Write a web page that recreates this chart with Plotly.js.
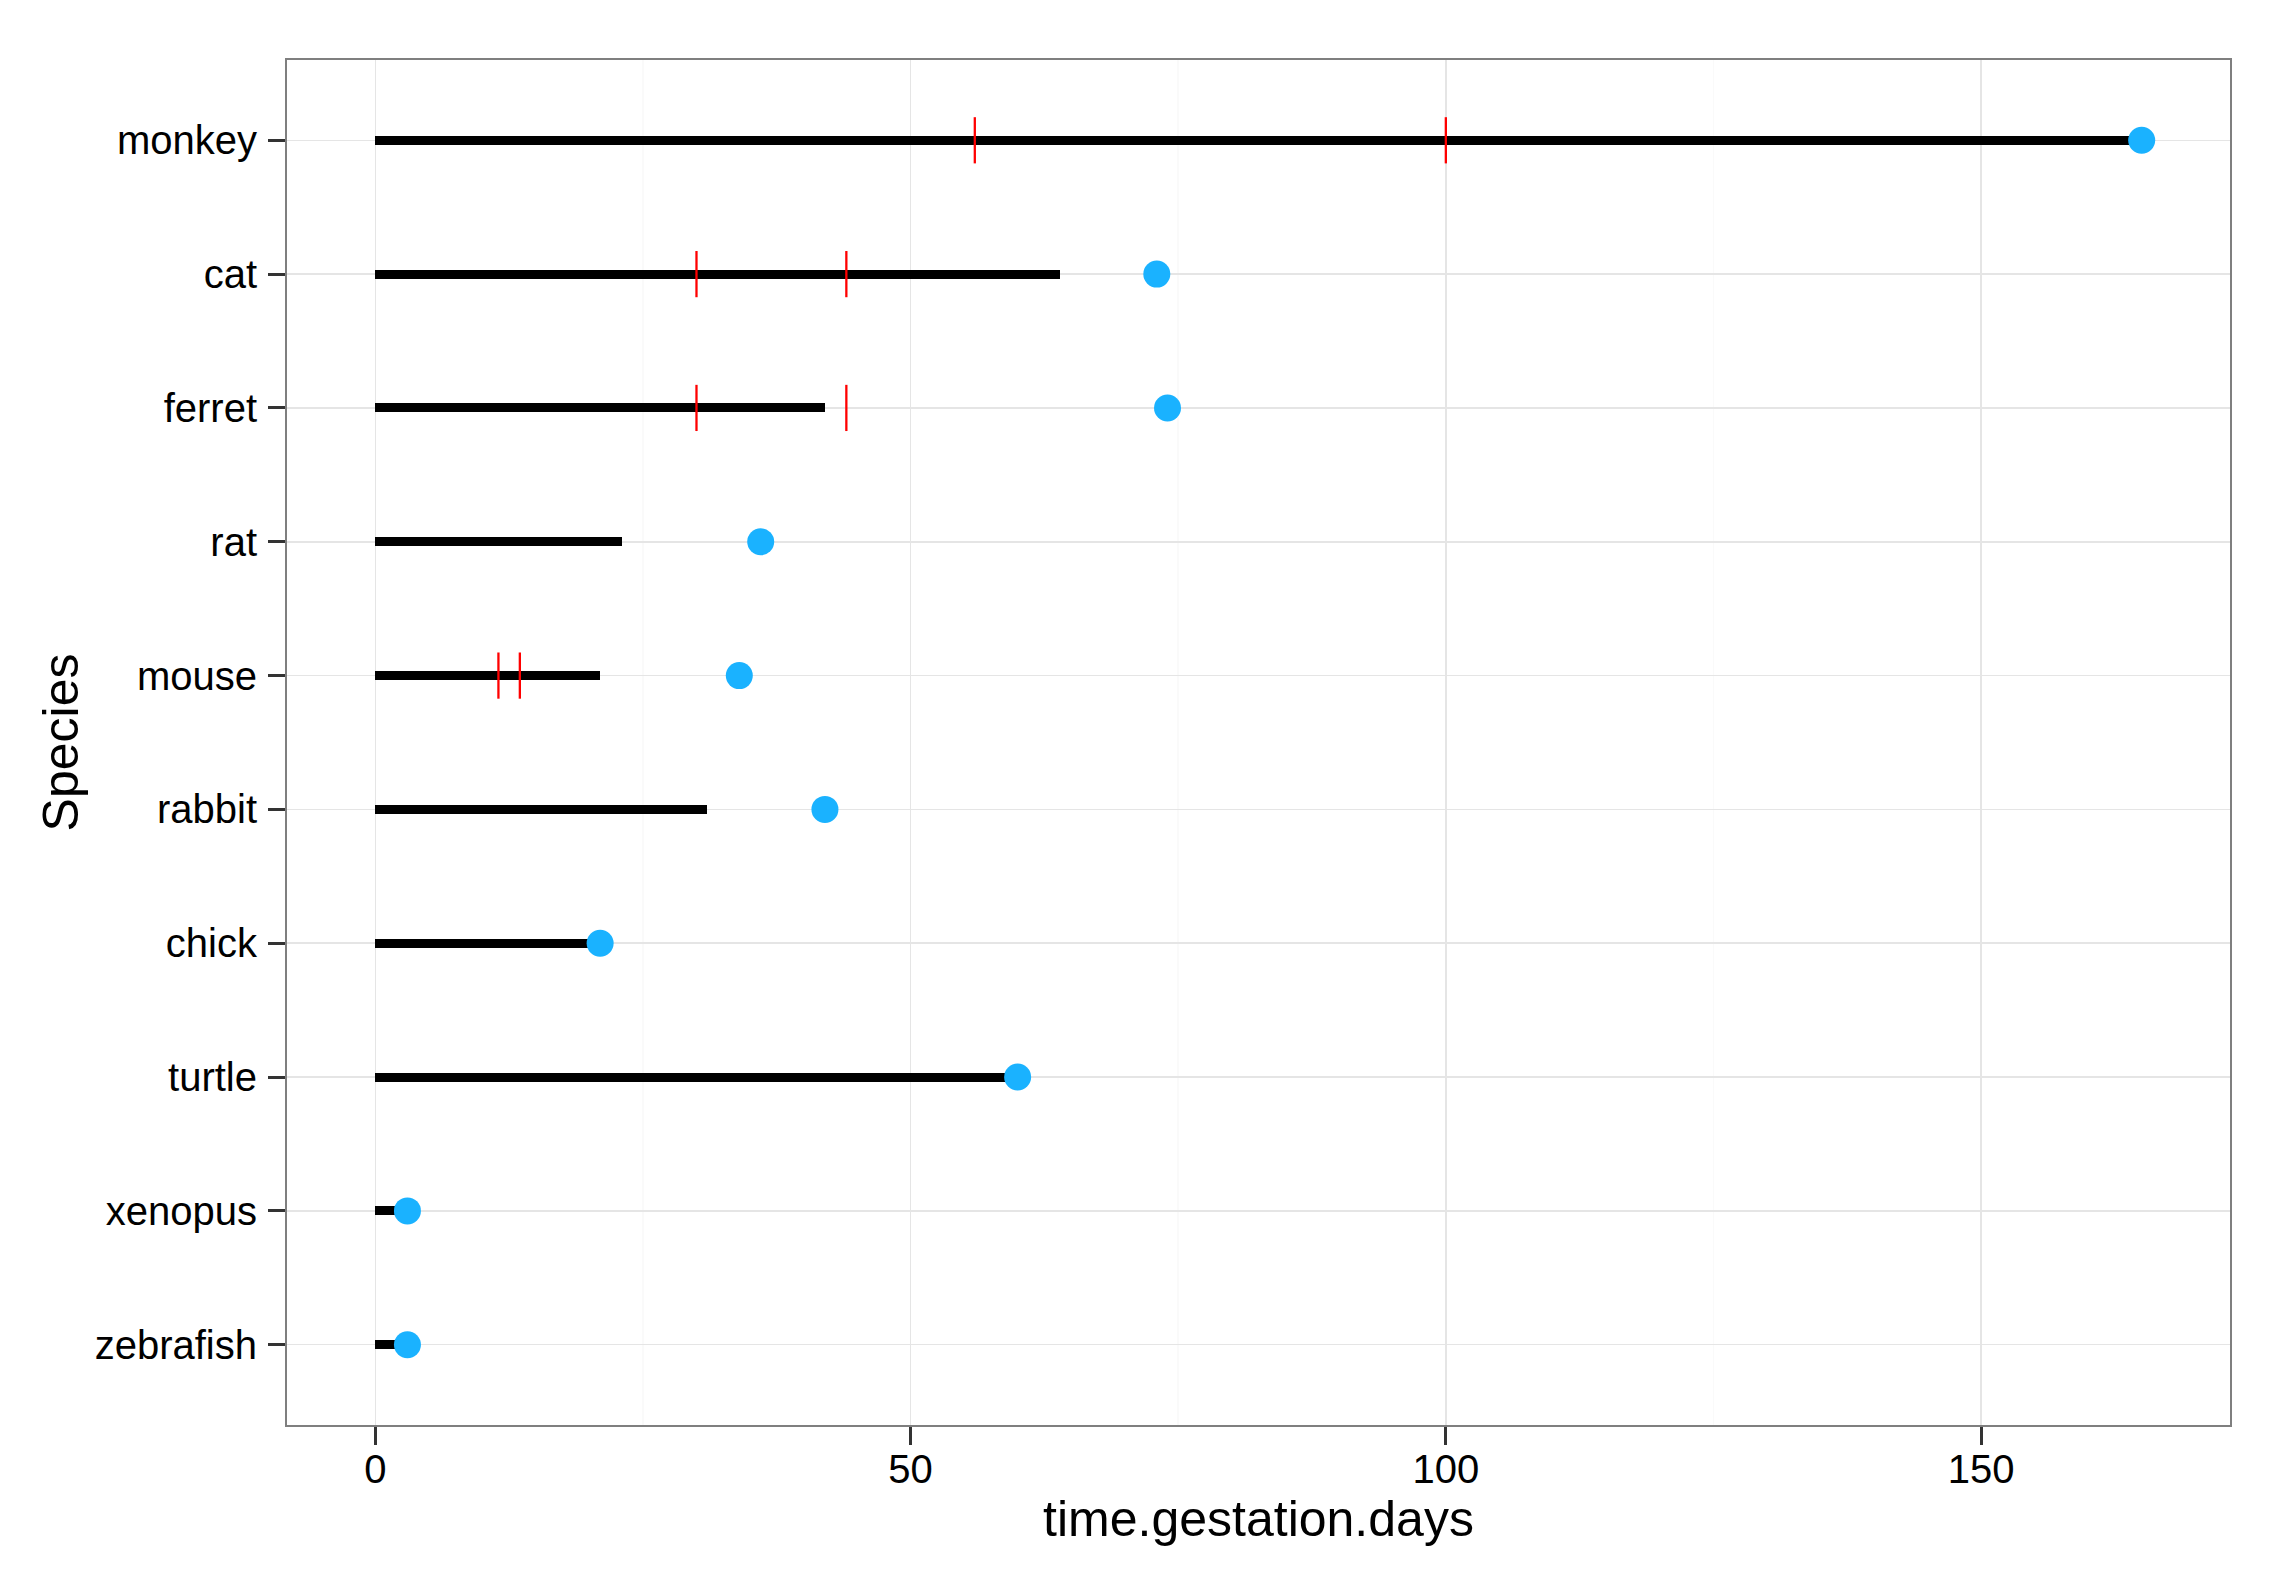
<!DOCTYPE html>
<html>
<head>
<meta charset="utf-8">
<script src="https://cdn.plot.ly/plotly-3.0.1.min.js"></script>
<style>html,body{margin:0;padding:0;background:#fff;}#chart{width:2291px;height:1579px;}</style>
</head>
<body>
<div id="chart"></div>
<script>
// Data
const species   = ["monkey", "cat", "ferret", "rat", "mouse", "rabbit", "chick", "turtle", "xenopus", "zebrafish"];
const barEnd    = [165, 64, 42, 23, 21, 31, 21, 59, 3, 3];
const pointDay  = [165, 73, 74, 36, 34, 42, 21, 60, 3, 3];
const markFirst = [56, 30, 30, null, 11.5, null, null, null, null, null];
const markSecond= [100, 44, 44, null, 13.5, null, null, null, null, null];
const xTicks    = [0, 50, 100, 150];

const markX = markFirst.concat(markSecond);
const markY = species.concat(species);

const FONT = '"Liberation Sans", Arial, Helvetica, sans-serif';

const traces = [
  {
    type: 'bar', orientation: 'h',
    x: barEnd, y: species,
    width: 0.067,
    marker: {color: '#000000', line: {width: 0}},
    hoverinfo: 'x+y', showlegend: false
  },
  {
    type: 'scatter', mode: 'markers',
    x: markX, y: markY,
    marker: {symbol: 'line-ns', size: 33, color: '#FF0000', line: {color: '#FF0000', width: 2.3}},
    showlegend: false
  },
  {
    type: 'scatter', mode: 'markers',
    x: pointDay, y: species,
    marker: {symbol: 'circle', size: 27, color: '#1AB2FF', line: {width: 0}},
    showlegend: false
  }
];

const layout = {
  width: 2291, height: 1579,
  margin: {l: 287, r: 61, t: 60, b: 154, pad: 0},
  paper_bgcolor: '#FFFFFF', plot_bgcolor: '#FFFFFF',
  font: {family: FONT, color: '#000000'},
  showlegend: false,
  bargap: 0,
  xaxis: {
    range: [-8.25, 173.25],
    tickmode: 'array', tickvals: xTicks, ticktext: xTicks.map(String),
    ticks: 'outside', ticklen: 18, tickwidth: 3, tickcolor: '#333333',
    ticklabelstandoff: -10,
    tickfont: {family: FONT, size: 40, color: '#000000'},
    showgrid: true, gridcolor: '#E5E5E5', gridwidth: 1.5,
    minor: {dtick: 25, tick0: 0, showgrid: true, gridcolor: '#FAFAFA', gridwidth: 1.5, ticks: ''},
    zeroline: false,
    showline: true, mirror: true, linecolor: '#7F7F7F', linewidth: 2,
    title: {text: 'time.gestation.days', font: {family: FONT, size: 50, color: '#000000'}, standoff: 11},
    fixedrange: true
  },
  yaxis: {
    type: 'category',
    categoryorder: 'array', categoryarray: species.slice().reverse(),
    range: [-0.6, 9.6],
    ticks: 'outside', ticklen: 17, tickwidth: 3, tickcolor: '#333333',
    ticklabelstandoff: 3,
    tickfont: {family: FONT, size: 40, color: '#000000'},
    showgrid: true, gridcolor: '#E5E5E5', gridwidth: 1.5,
    zeroline: false,
    showline: true, mirror: true, linecolor: '#7F7F7F', linewidth: 2,
    title: {text: 'Species', font: {family: FONT, size: 50, color: '#000000'}, standoff: 0},
    fixedrange: true
  }
};

Plotly.newPlot('chart', traces, layout, {displayModeBar: false, staticPlot: true});
</script>
</body>
</html>
